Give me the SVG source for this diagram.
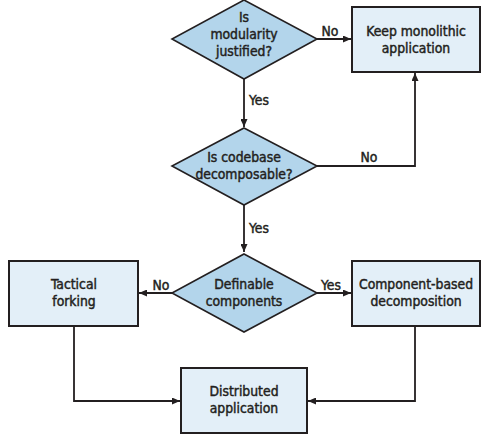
<svg xmlns="http://www.w3.org/2000/svg" width="489" height="438" viewBox="0 0 489 438">
<defs>
<style>
.box{fill:#e3eff8;stroke:#231f20;stroke-width:2}
.dia{fill:#b3d5eb;stroke:#231f20;stroke-width:1.6}
.edge{fill:none;stroke:#231f20;stroke-width:1.8}
text{font-family:"DejaVu Sans Condensed","DejaVu Sans",sans-serif;font-stretch:condensed;font-size:13.8px;fill:#231f20;stroke:#231f20;stroke-width:0.45;text-anchor:middle}
</style>
<marker id="arr" viewBox="0 0 10 10" refX="10" refY="5" markerWidth="8" markerHeight="7" markerUnits="userSpaceOnUse" orient="auto" preserveAspectRatio="none">
<path d="M0,0 L10,5 L0,10 Z" fill="#231f20"/>
</marker>
</defs>
<rect width="489" height="438" fill="#ffffff"/>
<g id="connectors">
<path class="edge" d="M317,39 H351" marker-end="url(#arr)"/>
<path class="edge" d="M244,79 V127" marker-end="url(#arr)"/>
<path class="edge" d="M317,166 H415 V73" marker-end="url(#arr)"/>
<path class="edge" d="M244,205 V252" marker-end="url(#arr)"/>
<path class="edge" d="M172,293 H139" marker-end="url(#arr)"/>
<path class="edge" d="M317,293 H351" marker-end="url(#arr)"/>
<path class="edge" d="M74,326 V401 H180" marker-end="url(#arr)"/>
<path class="edge" d="M415,326 V401 H308" marker-end="url(#arr)"/>
<text x="330" y="36">No</text>
<text x="259" y="105">Yes</text>
<text x="369" y="162">No</text>
<text x="259" y="233">Yes</text>
<text x="161" y="290">No</text>
<text x="331" y="290">Yes</text>
</g>
<g id="q1">
<polygon class="dia" points="244,0 317,39 244,79 172,39"/>
<text x="244" y="22">Is</text>
<text x="244" y="39">modularity</text>
<text x="244" y="56">justified?</text>
</g>
<g id="keep">
<rect class="box" x="352" y="7" width="128" height="65"/>
<text x="416" y="36">Keep monolithic</text>
<text x="416" y="53">application</text>
</g>
<g id="q2">
<polygon class="dia" points="244,128 317,166 244,205 172,166"/>
<text x="244" y="162">Is codebase</text>
<text x="244" y="179">decomposable?</text>
</g>
<g id="q3">
<polygon class="dia" points="244,254 317,293 244,332 172,293"/>
<text x="244" y="289">Definable</text>
<text x="244" y="306">components</text>
</g>
<g id="tactical">
<rect class="box" x="9" y="261" width="129" height="65"/>
<text x="74" y="289">Tactical</text>
<text x="74" y="306">forking</text>
</g>
<g id="component">
<rect class="box" x="352" y="261" width="128" height="65"/>
<text x="416" y="289">Component-based</text>
<text x="416" y="306">decomposition</text>
</g>
<g id="distributed">
<rect class="box" x="181" y="368" width="126" height="65"/>
<text x="244" y="396">Distributed</text>
<text x="244" y="413">application</text>
</g>
</svg>
